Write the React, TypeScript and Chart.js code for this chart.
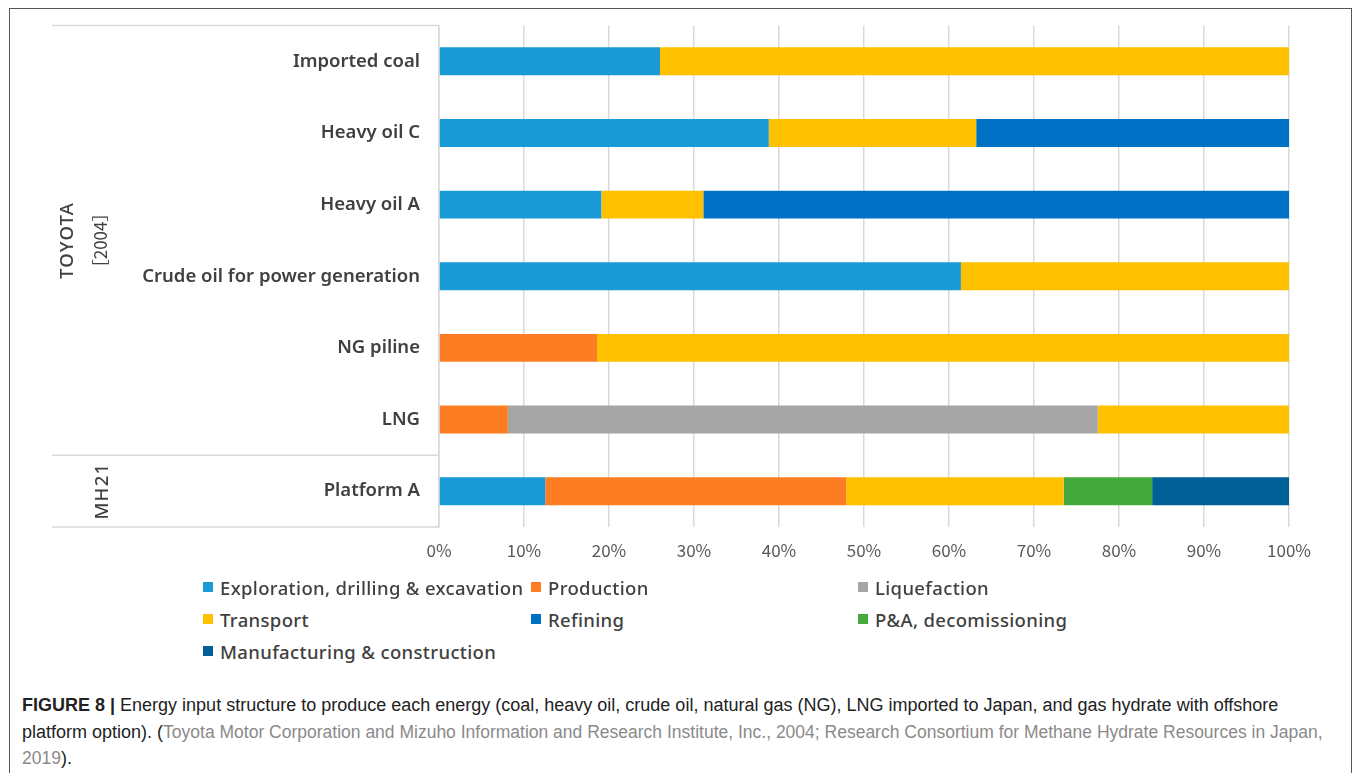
import React, { useEffect, useRef } from "react";
import { Chart, registerables } from "chart.js";

Chart.register(...registerables);

const categories = [
  "Imported coal",
  "Heavy oil C",
  "Heavy oil A",
  "Crude oil for power generation",
  "NG piline",
  "LNG",
  "Platform A",
];

const exploration = [26.0, 38.8, 19.1, 61.4, 0, 0, 12.5];
const production = [0, 0, 0, 0, 18.6, 8.1, 35.4];
const liquefaction = [0, 0, 0, 0, 0, 69.4, 0];
const transport = [74.0, 24.4, 12.0, 38.6, 81.4, 22.5, 25.6];
const refining = [0, 36.8, 68.9, 0, 0, 0, 0];
const decommissioning = [0, 0, 0, 0, 0, 0, 10.4];
const manufacturing = [0, 0, 0, 0, 0, 0, 16.1];

const seriesNames = [
  "Exploration, drilling & excavation",
  "Production",
  "Liquefaction",
  "Transport",
  "Refining",
  "P&A, decomissioning",
  "Manufacturing & construction",
];
const seriesValues = [
  exploration,
  production,
  liquefaction,
  transport,
  refining,
  decommissioning,
  manufacturing,
];
const seriesColors = [
  "#1a9ad6",
  "#fd7d23",
  "#a5a5a5",
  "#ffc000",
  "#0171c5",
  "#43aa3b",
  "#005f96",
];

const xTicks = [0, 10, 20, 30, 40, 50, 60, 70, 80, 90, 100];

// Row groups shown in the left-hand table: label lines and the category range they span
const groups = [
  { lines: ["TOYOTA", "［2004］"], from: 0, to: 5, x: 68 },
  { lines: ["MH21"], from: 6, to: 6, x: 103 },
];

const CJK = "'Noto Sans CJK JP', 'Noto Sans', sans-serif";
const SANS = "'Noto Sans', 'Noto Sans CJK JP', sans-serif";
const LINE = "#d9d9d9";

const tablePlugin = {
  id: "groupTable",
  afterDraw(chart: any) {
    const { ctx, chartArea, scales } = chart;
    const y = scales.y;
    const left = 52;
    const half = (y.getPixelForValue(1) - y.getPixelForValue(0)) / 2;
    ctx.save();
    ctx.strokeStyle = LINE;
    ctx.lineWidth = 1.5;
    const hline = (py: number) => {
      ctx.beginPath();
      ctx.moveTo(left, py);
      ctx.lineTo(chartArea.left, py);
      ctx.stroke();
    };
    hline(chartArea.top);
    groups.forEach((g) => hline(y.getPixelForValue(g.to) + half));
    ctx.fillStyle = "#404040";
    ctx.textAlign = "center";
    ctx.textBaseline = "middle";
    groups.forEach((g) => {
      const cy = (y.getPixelForValue(g.from) - half + y.getPixelForValue(g.to) + half) / 2;
      g.lines.forEach((txt, i) => {
        ctx.save();
        const bracketed = txt.startsWith("［");
        ctx.font = bracketed ? `17px ${CJK}` : `500 18.5px ${SANS}`;
        (ctx as any).letterSpacing = bracketed ? "0px" : "1.2px";
        ctx.translate(g.x + i * 33, cy);
        ctx.rotate(-Math.PI / 2);
        ctx.fillText(txt, 0, 0);
        ctx.restore();
      });
    });
    ctx.restore();
  },
};

export default function App() {
  const ref = useRef<HTMLCanvasElement>(null);

  useEffect(() => {
    if (!ref.current) return;
    const chart = new Chart(ref.current, {
      type: "bar",
      data: {
        labels: categories,
        datasets: seriesNames.map((name, i) => ({
          label: name,
          data: seriesValues[i],
          backgroundColor: seriesColors[i],
          borderWidth: 0,
          barPercentage: 0.39,
          categoryPercentage: 1,
        })),
      },
      options: {
        indexAxis: "y",
        responsive: false,
        animation: false,
        layout: { padding: { top: 25.5, right: 66, left: 0, bottom: 0 } },
        plugins: {
          legend: { display: false },
          tooltip: { enabled: false },
        },
        scales: {
          x: {
            stacked: true,
            min: 0,
            max: 100,
            afterBuildTicks: (s: any) => {
              s.ticks = xTicks.map((v) => ({ value: v }));
            },
            afterFit: (s: any) => {
              s.height = 48;
            },
            grid: { color: LINE, lineWidth: 1.5, drawTicks: false },
            border: { display: false },
            ticks: {
              padding: 13,
              color: "#595959",
              font: { family: CJK, size: 17 },
              callback: (v: any) => `${v}%`,
            },
          },
          y: {
            stacked: true,
            afterFit: (s: any) => {
              s.width = 439;
            },
            grid: { display: false },
            border: { display: true, color: LINE, width: 1.5 },
            ticks: {
              padding: 11,
              color: "#404040",
              font: { family: SANS, size: 18.5, weight: 600 },
            },
          },
        },
      },
      plugins: [tablePlugin],
    });
    return () => chart.destroy();
  }, []);

  const legendCols = [203, 531, 858];
  const legendRows = [587, 619, 651];

  return (
    <div
      style={{
        position: "absolute",
        left: 0,
        top: 0,
        width: 1355,
        height: 773,
        background: "#fff",
        overflow: "hidden",
      }}
    >
      <div
        style={{
          position: "absolute",
          left: 9,
          top: 8,
          width: 1343,
          height: 780,
          border: "1.5px solid #555",
          boxSizing: "border-box",
        }}
      />
      <canvas
        ref={ref}
        width={1355}
        height={575}
        style={{ position: "absolute", left: 0, top: 0 }}
      />
      {seriesNames.map((name, i) => (
        <div
          key={name}
          style={{
            position: "absolute",
            left: legendCols[i % 3],
            top: legendRows[Math.floor(i / 3)] - 13,
            height: 26,
            display: "flex",
            alignItems: "center",
            whiteSpace: "nowrap",
            fontFamily: SANS,
            fontSize: 18.5,
            letterSpacing: "0.35px",
            fontWeight: 500,
            color: "#404040",
          }}
        >
          <span
            style={{
              display: "inline-block",
              width: 10,
              height: 10,
              background: seriesColors[i],
              marginRight: 7,
            }}
          />
          {name}
        </div>
      ))}
      <div
        style={{
          position: "absolute",
          left: 22,
          top: 692,
          fontFamily: "'Liberation Sans', Arial, sans-serif",
          fontSize: 18,
          lineHeight: "26.5px",
          color: "#222",
          whiteSpace: "nowrap",
        }}
      >
        <b>FIGURE 8 |</b> Energy input structure to produce each energy (coal, heavy oil, crude oil,
        natural gas (NG), LNG imported to Japan, and gas hydrate with offshore
        <br />
        platform option). (
        <span style={{ color: "#8a8a8a", fontSize: 17.5 }}>
          Toyota Motor Corporation and Mizuho Information and Research Institute, Inc., 2004; Research
          Consortium for Methane Hydrate Resources in Japan,
        </span>
        <br />
        <span style={{ color: "#8a8a8a", fontSize: 17.5 }}>2019</span>).
      </div>
    </div>
  );
}
